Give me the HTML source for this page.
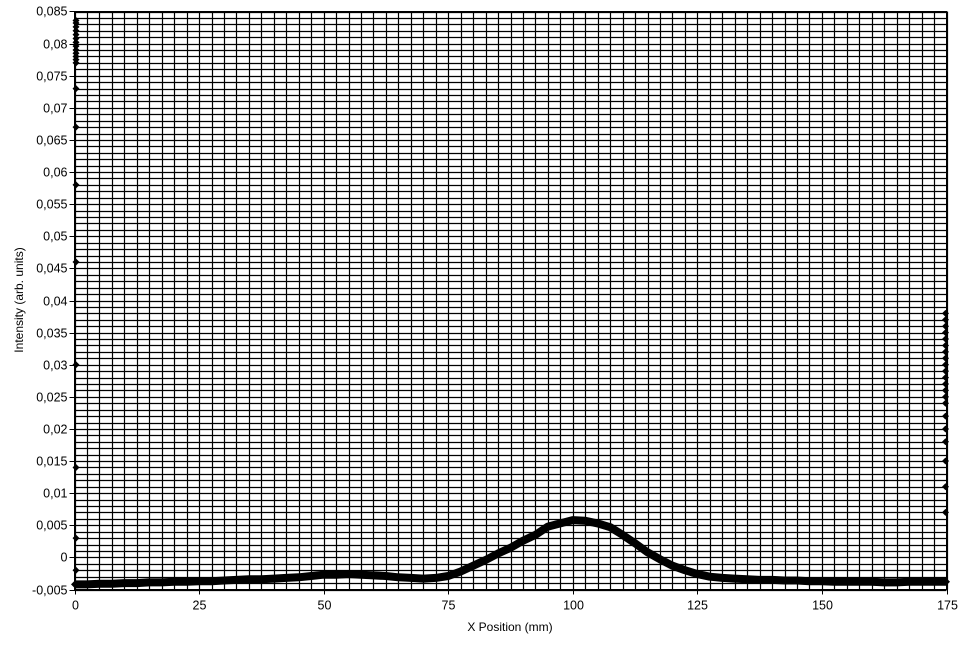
<!DOCTYPE html>
<html><head><meta charset="utf-8"><style>
body{margin:0;background:#fff;}
svg text{font-family:"Liberation Sans",sans-serif;fill:#000;}
</style></head><body>
<svg id="chart" width="972" height="647" xmlns="http://www.w3.org/2000/svg">
<g id="grid"></g>
<g id="series"></g>
<g id="axes"></g>
<text x="510" y="631" font-size="12" text-anchor="middle">X Position (mm)</text>
<text x="0" y="0" font-size="12" text-anchor="middle" transform="translate(23,300) rotate(-90)">Intensity (arb. units)</text>
</svg>
<script>
const xs = [0,2.5,5,7.5,10,12.5,15,17.5,20,22.5,25,27.5,30,32.5,35,37.5,40,42.5,45,47.5,50,52.5,55,57.5,60,62.5,65,67.5,70,72.5,75,77.5,80,82.5,85,87.5,90,92.5,95,97.5,100,102.5,105,107.5,110,112.5,115,117.5,120,122.5,125,127.5,130,132.5,135,137.5,140,142.5,145,147.5,150,152.5,155,157.5,160,162.5,165,167.5,170,172.5,175];
const ys = [-0.0042,-0.0042,-0.0041,-0.0041,-0.0040,-0.0040,-0.0039,-0.0039,-0.0038,-0.0038,-0.0037,-0.0037,-0.0036,-0.0035,-0.0034,-0.0034,-0.0033,-0.0032,-0.0031,-0.0029,-0.0027,-0.0027,-0.0026,-0.0027,-0.0028,-0.0029,-0.0031,-0.0032,-0.0033,-0.0032,-0.0029,-0.0022,-0.0013,-0.0004,0.0006,0.0015,0.0026,0.0035,0.0048,0.0053,0.0058,0.0057,0.0053,0.0047,0.0035,0.0022,0.0008,-0.0003,-0.0013,-0.0020,-0.0026,-0.0030,-0.0032,-0.0033,-0.0034,-0.0035,-0.0035,-0.0036,-0.0036,-0.0037,-0.0037,-0.0038,-0.0038,-0.0038,-0.0038,-0.0039,-0.0039,-0.0038,-0.0038,-0.0038,-0.0038];
const leftEdge = [0.0836,0.0832,0.0826,0.082,0.0814,0.0808,0.0802,0.0796,0.079,0.0785,0.078,0.0775,0.077,0.073,0.067,0.058,0.046,0.030,0.014,0.003,-0.002];
const rightEdge = [0.038,0.037,0.036,0.035,0.034,0.033,0.032,0.031,0.030,0.029,0.028,0.027,0.026,0.025,0.024,0.022,0.020,0.018,0.015,0.011,0.007];
const xTicks = [0,25,50,75,100,125,150,175];
const yTicks = [-0.005,0,0.005,0.01,0.015,0.02,0.025,0.03,0.035,0.04,0.045,0.05,0.055,0.06,0.065,0.07,0.075,0.08,0.085];
const X0=74.5,X1=946.5,Y0=589.5,Y1=11.5;
function sx(v){return X0+(v-0)/175*(X1-X0);}
function sy(v){return Y0-(v+0.005)/0.09*(Y0-Y1);}
const NS="http://www.w3.org/2000/svg";
function mk(t,a,p){const e=document.createElementNS(NS,t);for(const k in a)e.setAttribute(k,a[k]);p.appendChild(e);return e;}
const grid=document.getElementById('grid'),ser=document.getElementById('series'),axes=document.getElementById('axes');
for(let i=0;i<=70;i++){const x=Math.round(sx(i*2.5))+0.5;
 const l=mk('line',{x1:x,x2:x,y1:Y1,y2:Y0,stroke:'#000','stroke-width':1.2},grid);
 
 }
for(let i=0;i<=90;i++){const y=Math.round(sy(-0.005+i*0.001))+0.5;
 const l=mk('line',{x1:X0,x2:X1,y1:y,y2:y,stroke:'#000','stroke-width':1.2},grid);
 
 }
let d='';xs.forEach((x,i)=>{d+=(i?'L':'M')+sx(x).toFixed(1)+','+sy(ys[i]).toFixed(1);});
const pl=mk('path',{d:d,fill:'none',stroke:'#000','stroke-width':8,'stroke-linejoin':'round'},ser);


function diamond(cx,cy){const p=mk('path',{d:`M${cx},${cy-3.5}L${cx+3.5},${cy}L${cx},${cy+3.5}L${cx-3.5},${cy}Z`,fill:'#000'},ser);
 
 }
xs.forEach((x,i)=>diamond(sx(x),sy(ys[i])));
leftEdge.forEach(v=>diamond(sx(0)+1.5,sy(v)));
rightEdge.forEach(v=>diamond(sx(175)-1,sy(v)));
const ax=mk('path',{d:`M${X0},${Y1}V${Y0}H${X1}V${Y1}H${X0}`,fill:'none',stroke:'#000','stroke-width':1},axes);


xTicks.forEach(t=>{const x=Math.round(sx(t))+0.5;
 const l=mk('line',{x1:x,x2:x,y1:Y0,y2:Y0+5,stroke:'#000'},axes);
 
 
 const tx=mk('text',{x:x,y:Y0+20,'font-size':12.5,'text-anchor':'middle'},axes);tx.textContent=t;
 
 });
yTicks.forEach(t=>{const y=Math.round(sy(t))+0.5;
 const l=mk('line',{x1:X0-5,x2:X0,y1:y,y2:y,stroke:'#000'},axes);
 
 
 const tx=mk('text',{x:X0-7,y:y+4,'font-size':12.5,'text-anchor':'end'},axes);
 tx.textContent=(Math.abs(t)<1e-9?'0':String(+t.toFixed(3)).replace('.',','));
 
 });
</script>
</body></html>
